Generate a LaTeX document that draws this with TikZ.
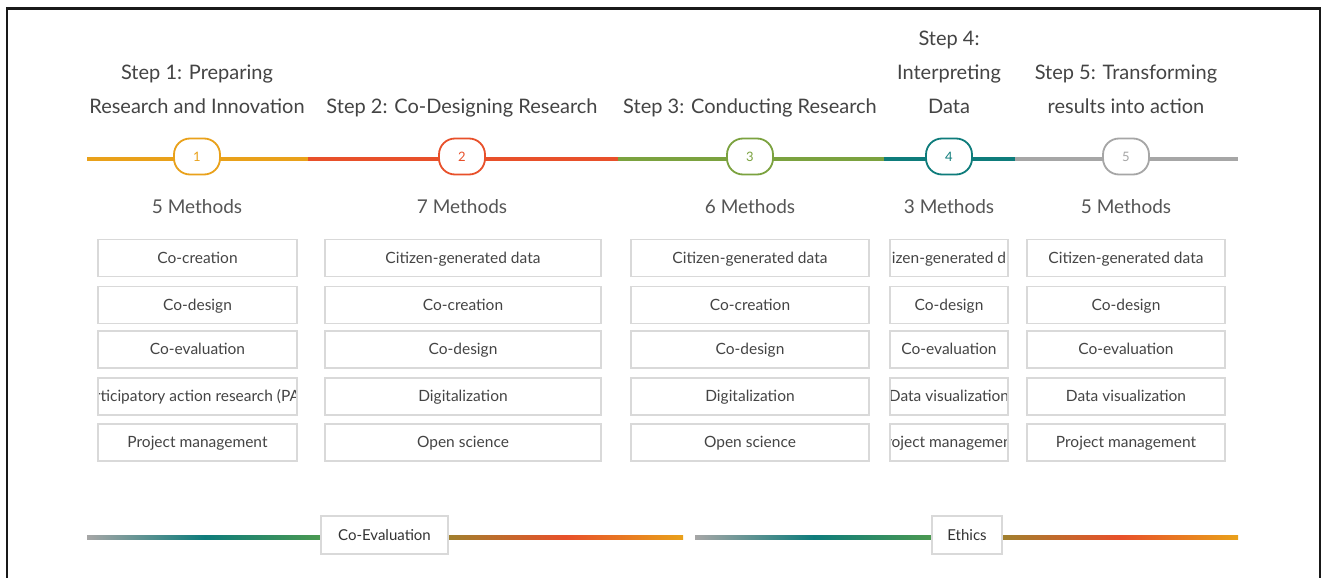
\documentclass[tikz,border=0pt]{standalone}
\usepackage{fontspec}
\setmainfont{Lato}
\definecolor{cOr}{HTML}{E9A11A}
\definecolor{cRd}{HTML}{E8502A}
\definecolor{cGn}{HTML}{7BA23F}
\definecolor{cTl}{HTML}{0E7C7B}
\definecolor{cGy}{HTML}{A6A6A6}
\definecolor{txt}{HTML}{444444}
\definecolor{txtb}{HTML}{555555}
\definecolor{bord}{HTML}{D9D9D9}
\definecolor{gGreen}{HTML}{4C9A50}
\definecolor{gOlive}{HTML}{A0802E}
\begin{document}
\begin{tikzpicture}[x=1pt,y=-1pt,
  head/.style={font=\fontsize{20}{34}\selectfont, text=txt, align=center, anchor=base},
  cnt/.style={font=\fontsize{19}{22}\selectfont, text=txtb},
  num/.style={draw=#1, text=#1, fill=white, line width=1.8pt, rounded corners=16pt,
     minimum width=46pt, minimum height=36pt, inner sep=0pt, font=\fontsize{13}{15}\selectfont},
  seg/.style={draw=#1, line width=4pt},
  mbox/.style={draw=bord, line width=1.2pt, minimum height=37pt, inner sep=0pt},
  lab/.style={draw=bord, fill=white, line width=1.2pt, minimum height=38pt, inner sep=0pt,
     font=\fontsize{15}{17}\selectfont, text=black!80},
]
\useasboundingbox (0,0) rectangle (1322,578);
\fill[white] (0,0) rectangle (1322,578);
% frame
\draw[line width=2.2pt, black!90] (7,578) -- (7,8.5) -- (1320,8.5) -- (1320,578);

% headers (anchored at the baseline of their last line)
\node[head] (h1) at (197,113) {Step 1: Preparing\\Research and Innovation};
\node[head] (h2) at (462,113) {Step 2: Co-Designing Research};
\node[head] (h3) at (750,113) {Step 3: Conducting Research};
\node[head] (h4) at (949,113) {Step 4:\\Interpreting\\Data};
\node[head] (h5) at (1126,113) {Step 5: Transforming\\results into action};

% timeline
\coordinate (t0) at (87,159);
\coordinate (t1) at (308,159);
\coordinate (t2) at (618,159);
\coordinate (t3) at (884,159);
\coordinate (t4) at (1015,159);
\coordinate (t5) at (1238,159);
\draw[seg=cOr] (t0) -- (t1);
\draw[seg=cRd] (t1) -- (t2);
\draw[seg=cGn] (t2) -- (t3);
\draw[seg=cTl] (t3) -- (t4);
\draw[seg=cGy] (t4) -- (t5);
\node[num=cOr] (c1) at (197,156.5) {1};
\node[num=cRd] (c2) at (462,156.5) {2};
\node[num=cGn] (c3) at (750,156.5) {3};
\node[num=cTl] (c4) at (949,156.5) {4};
\node[num=cGy] (c5) at (1126,156.5) {5};

% counts
\node[cnt] (m1) at (197,207) {5 Methods};
\node[cnt] (m2) at (462,207) {7 Methods};
\node[cnt] (m3) at (750,207) {6 Methods};
\node[cnt] (m4) at (949,207) {3 Methods};
\node[cnt] (m5) at (1126,207) {5 Methods};

% method boxes
\newcommand{\mcell}[5]{%
  \node[mbox, minimum width=#3, path picture={\node[font=\fontsize{15.5}{17}\selectfont, text=txt, inner sep=0pt, anchor=base] at ([yshift=-5pt]path picture bounding box.center) {#5};}] (#4) at (#1,#2) {};}
% column 1
\mcell{197.5}{258}{199pt}{a1}{Co-creation}
\mcell{197.5}{305}{199pt}{a2}{Co-design}
\mcell{197.5}{349.5}{199pt}{a3}{Co-evaluation}
\mcell{197.5}{396.5}{199pt}{a4}{rticipatory action research (PA}
\mcell{197.5}{442.5}{199pt}{a5}{Project management}
% column 2
\mcell{463}{258}{276pt}{b1}{Citizen-generated data}
\mcell{463}{305}{276pt}{b2}{Co-creation}
\mcell{463}{349.5}{276pt}{b3}{Co-design}
\mcell{463}{396.5}{276pt}{b4}{Digitalization}
\mcell{463}{442.5}{276pt}{b5}{Open science}
% column 3
\mcell{750}{258}{238pt}{c31}{Citizen-generated data}
\mcell{750}{305}{238pt}{c32}{Co-creation}
\mcell{750}{349.5}{238pt}{c33}{Co-design}
\mcell{750}{396.5}{238pt}{c34}{Digitalization}
\mcell{750}{442.5}{238pt}{c35}{Open science}
% column 4
\mcell{949}{258}{118pt}{d1}{izen-generated d}
\mcell{949}{305}{118pt}{d2}{Co-design}
\mcell{949}{349.5}{118pt}{d3}{Co-evaluation}
\mcell{949}{396.5}{118pt}{d4}{Data visualization}
\mcell{949}{442.5}{118pt}{d5}{roject managemen}
% column 5
\mcell{1126}{258}{198pt}{e1}{Citizen-generated data}
\mcell{1126}{305}{198pt}{e2}{Co-design}
\mcell{1126}{349.5}{198pt}{e3}{Co-evaluation}
\mcell{1126}{396.5}{198pt}{e4}{Data visualization}
\mcell{1126}{442.5}{198pt}{e5}{Project management}

% bottom bars
\fill[left color=cGy, right color=gGreen, middle color=cTl] (87,535.5) rectangle (322,539.5);
\fill[left color=gOlive, right color=cOr, middle color=cRd] (448,535.5) rectangle (683,539.5);
\fill[left color=cGy, right color=gGreen, middle color=cTl] (695,535.5) rectangle (933,539.5);
\fill[left color=gOlive, right color=cOr, middle color=cRd] (1002,535.5) rectangle (1238,539.5);
\node[lab, minimum width=127pt] (ce) at (384.5,535) {Co-Evaluation};
\node[lab, minimum width=70pt] (et) at (967,535) {Ethics};
\end{tikzpicture}
\end{document}
